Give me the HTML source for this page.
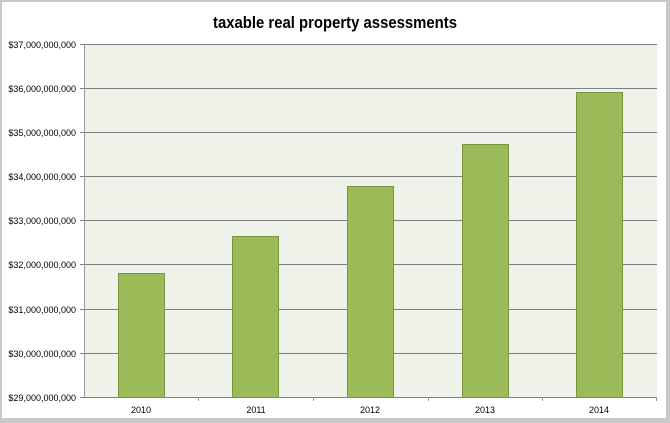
<!DOCTYPE html>
<html><head><meta charset="utf-8"><style>
html,body{margin:0;padding:0;background:#fff;}
svg{display:block;font-family:"Liberation Sans",sans-serif;}
</style></head><body>
<svg width="670" height="423" viewBox="0 0 670 423" xmlns="http://www.w3.org/2000/svg">
<rect x="0" y="0" width="670" height="423" fill="#c8c8c8"/>
<rect x="2" y="2" width="664" height="416" fill="#fff"/>
<text x="213" y="28" font-size="17" font-weight="bold" fill="#000" textLength="244" lengthAdjust="spacingAndGlyphs">taxable real property assessments</text>
<rect x="84" y="44" width="573" height="353" fill="#eff2e9"/>
<g stroke="#7f7f7f" stroke-width="1">
<line x1="80" y1="44.5" x2="657" y2="44.5"/>
<line x1="80" y1="88.5" x2="657" y2="88.5"/>
<line x1="80" y1="132.5" x2="657" y2="132.5"/>
<line x1="80" y1="176.5" x2="657" y2="176.5"/>
<line x1="80" y1="220.5" x2="657" y2="220.5"/>
<line x1="80" y1="264.5" x2="657" y2="264.5"/>
<line x1="80" y1="309.5" x2="657" y2="309.5"/>
<line x1="80" y1="353.5" x2="657" y2="353.5"/>
<line x1="80" y1="397.5" x2="657" y2="397.5"/>
</g>
<line x1="84.5" y1="44" x2="84.5" y2="397" stroke="#9a9a9a"/>
<g stroke="#9a9a9a"><line x1="198.5" y1="397" x2="198.5" y2="401"/><line x1="313.5" y1="397" x2="313.5" y2="401"/><line x1="428.5" y1="397" x2="428.5" y2="401"/><line x1="542.5" y1="397" x2="542.5" y2="401"/><line x1="656.5" y1="397" x2="656.5" y2="401"/></g>
<g fill="#9bbb59" stroke="#78943f" stroke-width="1">
<rect x="118.5" y="273.5" width="46" height="124"/>
<rect x="232.5" y="236.5" width="46" height="161"/>
<rect x="347.5" y="186.5" width="46" height="211"/>
<rect x="462.5" y="144.5" width="46" height="253"/>
<rect x="576.5" y="92.5" width="46" height="305"/>
</g>
<g font-size="9" fill="#000" text-anchor="end">
<text x="76" y="48">$37,000,000,000</text>
<text x="76" y="92">$36,000,000,000</text>
<text x="76" y="136">$35,000,000,000</text>
<text x="76" y="180">$34,000,000,000</text>
<text x="76" y="224">$33,000,000,000</text>
<text x="76" y="268">$32,000,000,000</text>
<text x="76" y="313">$31,000,000,000</text>
<text x="76" y="357">$30,000,000,000</text>
<text x="76" y="401">$29,000,000,000</text>
</g>
<g font-size="9" fill="#000" text-anchor="middle">
<text x="141" y="413">2010</text>
<text x="256" y="413">2011</text>
<text x="370" y="413">2012</text>
<text x="485" y="413">2013</text>
<text x="599" y="413">2014</text>
</g>
</svg>
</body></html>
